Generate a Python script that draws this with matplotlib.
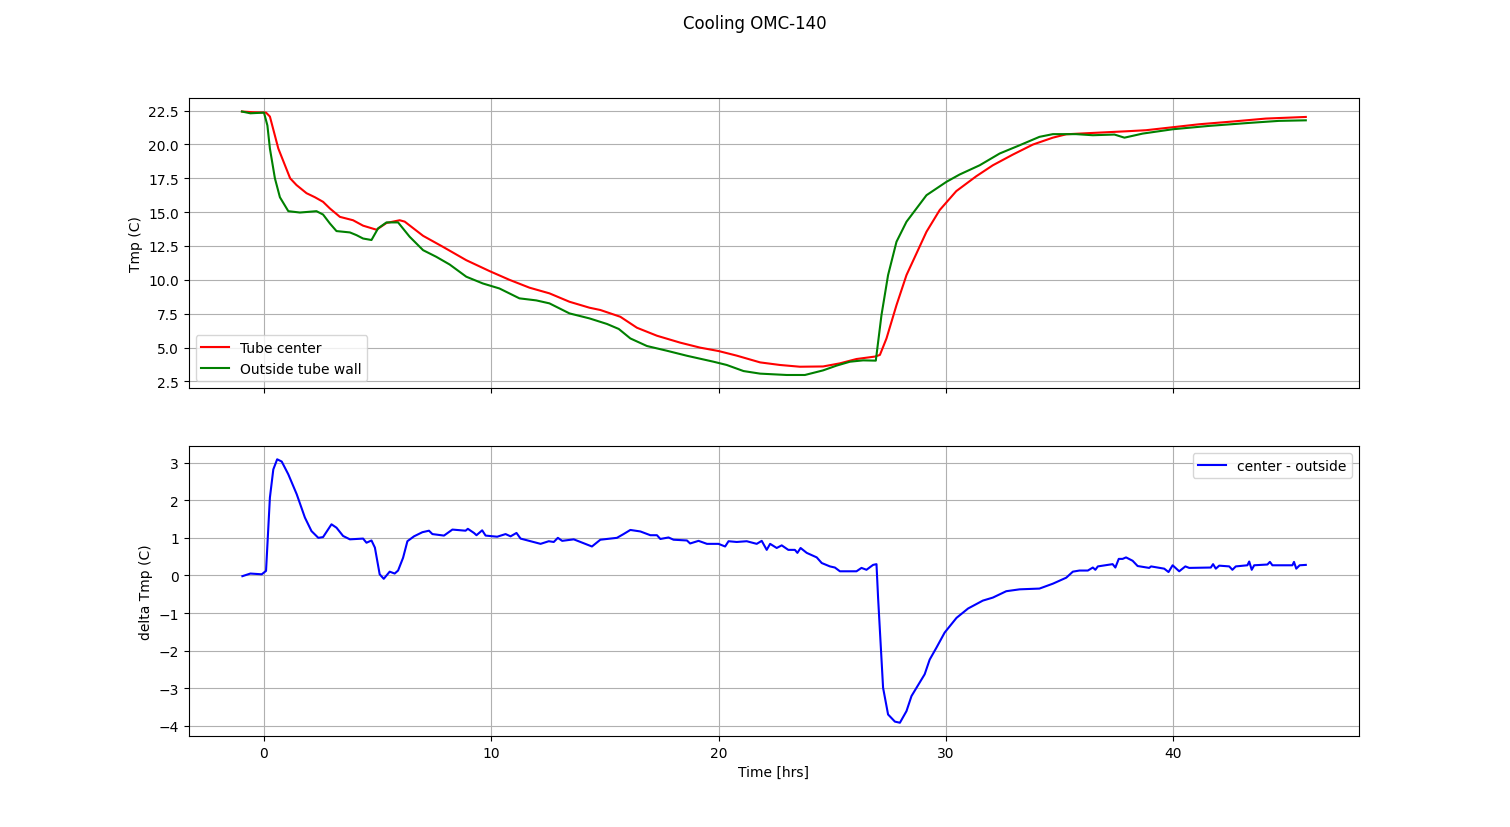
import matplotlib
matplotlib.use("Agg")
import matplotlib.pyplot as plt

# Tube center temperature
t_center = [-0.97, -0.5, 0.09, 0.26, 0.63, 1.15, 1.43, 1.87, 2.24, 2.6, 2.9, 3.34, 3.92, 4.36, 4.95,
            5.39, 5.97, 6.19, 7.0, 7.87, 8.9, 9.93, 10.8, 11.68, 12.56, 13.44, 14.32, 14.8, 15.68,
            16.41, 17.29, 18.31, 19.19, 20.0, 20.8, 21.83, 22.7, 23.58, 24.6, 25.34, 26.07, 26.88,
            27.1, 27.39, 27.83, 28.27, 28.71, 29.15, 29.73, 30.46, 31.34, 32.07, 32.95, 33.83,
            34.71, 35.3, 36.47, 37.93, 38.81, 39.98, 41.15, 42.6, 44.08, 45.84]
v_center = [22.43, 22.38, 22.35, 22.06, 19.7, 17.5, 17.0, 16.4, 16.1, 15.76, 15.27, 14.65, 14.4, 14.0,
            13.7, 14.2, 14.4, 14.3, 13.25, 12.44, 11.45, 10.64, 10.0, 9.42, 9.0, 8.38, 7.94, 7.77,
            7.27, 6.46, 5.87, 5.36, 4.99, 4.74, 4.40, 3.9, 3.71, 3.58, 3.6, 3.83, 4.15, 4.33, 4.45,
            5.67, 8.13, 10.35, 11.95, 13.55, 15.15, 16.55, 17.65, 18.46, 19.25, 19.99, 20.5, 20.75,
            20.85, 20.97, 21.05, 21.27, 21.49, 21.69, 21.91, 22.03]

# Outside tube wall temperature
t_wall = [-0.97, -0.6, 0.0, 0.15, 0.26, 0.48, 0.7, 1.07, 1.58, 1.95, 2.31, 2.6, 2.9, 3.19, 3.78, 4.07,
          4.36, 4.73, 5.02, 5.39, 5.9, 6.41, 7.0, 7.58, 8.17, 8.9, 9.63, 10.36, 11.24, 11.98, 12.56,
          13.44, 14.32, 15.09, 15.61, 16.12, 16.85, 17.73, 18.61, 19.78, 20.36, 21.1, 21.83, 23.0,
          23.8, 24.6, 25.19, 25.78, 26.36, 26.92, 27.17, 27.46, 27.83, 28.27, 29.15, 30.03, 30.61,
          31.49, 32.37, 33.25, 34.12, 34.71, 35.73, 36.47, 37.42, 37.86, 38.66, 39.98, 41.59,
          43.35, 44.66, 45.84]
v_wall = [22.43, 22.3, 22.35, 21.4, 19.7, 17.5, 16.1, 15.07, 14.97, 15.02, 15.07, 14.82, 14.16, 13.6,
          13.5, 13.3, 13.05, 12.94, 13.8, 14.24, 14.24, 13.18, 12.19, 11.7, 11.13, 10.23, 9.73, 9.36,
          8.63, 8.48, 8.26, 7.52, 7.15, 6.74, 6.37, 5.67, 5.11, 4.76, 4.39, 3.95, 3.71, 3.26, 3.07,
          2.97, 2.97, 3.31, 3.66, 3.95, 4.05, 4.03, 7.4, 10.35, 12.81, 14.29, 16.25, 17.24, 17.78,
          18.46, 19.33, 19.94, 20.56, 20.76, 20.76, 20.68, 20.73, 20.5, 20.8, 21.12, 21.37, 21.59,
          21.74, 21.78]

# Difference center - outside
t_delta = [-0.95, -0.6, -0.1, 0.09, 0.26, 0.41, 0.58, 0.78, 1.07, 1.44, 1.8, 2.09, 2.39, 2.6, 2.97,
           3.19, 3.48, 3.78, 4.36, 4.51, 4.73, 4.88, 5.09, 5.27, 5.53, 5.75, 5.9, 6.12,
           6.31, 6.6, 6.97, 7.26, 7.41, 7.92, 8.29, 8.87, 8.97, 9.24, 9.35, 9.6, 9.75, 10.26,
           10.63, 10.85, 11.11, 11.29, 11.73, 12.17, 12.53, 12.75, 12.93, 13.12, 13.63, 14.43,
           14.8, 15.24, 15.53, 15.82, 16.12, 16.56, 17.0, 17.29, 17.44, 17.8, 18.02, 18.61,
           18.75, 19.12, 19.49, 20.0, 20.29, 20.44, 20.8, 21.24, 21.68, 21.9, 22.12, 22.27,
           22.56, 22.78, 23.07, 23.36, 23.47, 23.61, 23.88, 24.32, 24.54, 24.9, 25.12, 25.34,
           26.07, 26.29, 26.51, 26.8, 26.95,
           27.02, 27.24, 27.46, 27.76, 27.98, 28.27, 28.49, 28.71, 29.07, 29.29, 29.59, 29.95,
           30.47, 30.98, 31.63, 32.07, 32.66, 33.25, 34.12, 34.71, 35.3, 35.59,
           35.88, 36.25, 36.47, 36.58, 36.69, 37.34, 37.46, 37.61, 37.78, 37.93, 38.22, 38.44,
           38.95, 39.03, 39.61, 39.8, 39.98, 40.27, 40.54, 40.71, 41.66, 41.76, 41.88, 42.03,
           42.47, 42.61, 42.76, 43.27, 43.35, 43.46, 43.57, 44.15, 44.26, 44.37, 45.25, 45.32,
           45.42, 45.57, 45.84]
v_delta = [-0.02, 0.05, 0.03, 0.12, 2.07, 2.82, 3.09, 3.03, 2.69, 2.16, 1.54, 1.18, 1.0, 1.02, 1.36,
           1.27, 1.05, 0.96, 0.98, 0.87, 0.93, 0.74, 0.03, -0.09, 0.1, 0.05, 0.13, 0.47,
           0.91, 1.04, 1.15, 1.19, 1.10, 1.06, 1.22, 1.19, 1.24, 1.13, 1.07, 1.2, 1.06, 1.03,
           1.10, 1.04, 1.13, 0.98, 0.91, 0.84, 0.91, 0.89, 1.0, 0.92, 0.96, 0.77,
           0.95, 0.98, 1.0, 1.10, 1.21, 1.17, 1.07, 1.07, 0.97, 1.01, 0.95, 0.93,
           0.85, 0.92, 0.84, 0.84, 0.77, 0.91, 0.89, 0.91, 0.84, 0.92, 0.68, 0.84,
           0.73, 0.80, 0.68, 0.68, 0.60, 0.73, 0.60, 0.48, 0.33, 0.24, 0.21, 0.11,
           0.11, 0.2, 0.15, 0.28, 0.30,
           -0.59, -2.99, -3.7, -3.89, -3.92, -3.61, -3.21, -2.99, -2.63, -2.24, -1.92, -1.52,
           -1.13, -0.88, -0.67, -0.59, -0.42, -0.37, -0.35, -0.22, -0.06, 0.1,
           0.13, 0.13, 0.21, 0.15, 0.24, 0.30, 0.21, 0.44, 0.44, 0.48, 0.39, 0.25,
           0.2, 0.24, 0.18, 0.09, 0.27, 0.11, 0.24, 0.2, 0.21, 0.30, 0.18, 0.26,
           0.24, 0.15, 0.24, 0.27, 0.37, 0.15, 0.27, 0.29, 0.36, 0.27, 0.27, 0.36,
           0.18, 0.27, 0.28]

fig, (ax1, ax2) = plt.subplots(2, 1, sharex=True, figsize=(15.1, 8.28), dpi=100)
fig.suptitle("Cooling OMC-140", y=0.982)

ax1.plot(t_center, v_center, color="r", label="Tube center")
ax1.plot(t_wall, v_wall, color="g", label="Outside tube wall")
ax1.set_ylabel("Tmp (C)")
ax1.grid(True)
ax1.legend(loc="lower left")

ax2.plot(t_delta, v_delta, color="b", label="center - outside")
ax2.set_ylabel("delta Tmp (C)")
ax2.set_xlabel("Time [hrs]")
ax2.grid(True)
ax2.legend(loc="upper right")

fig.savefig("out.png")
